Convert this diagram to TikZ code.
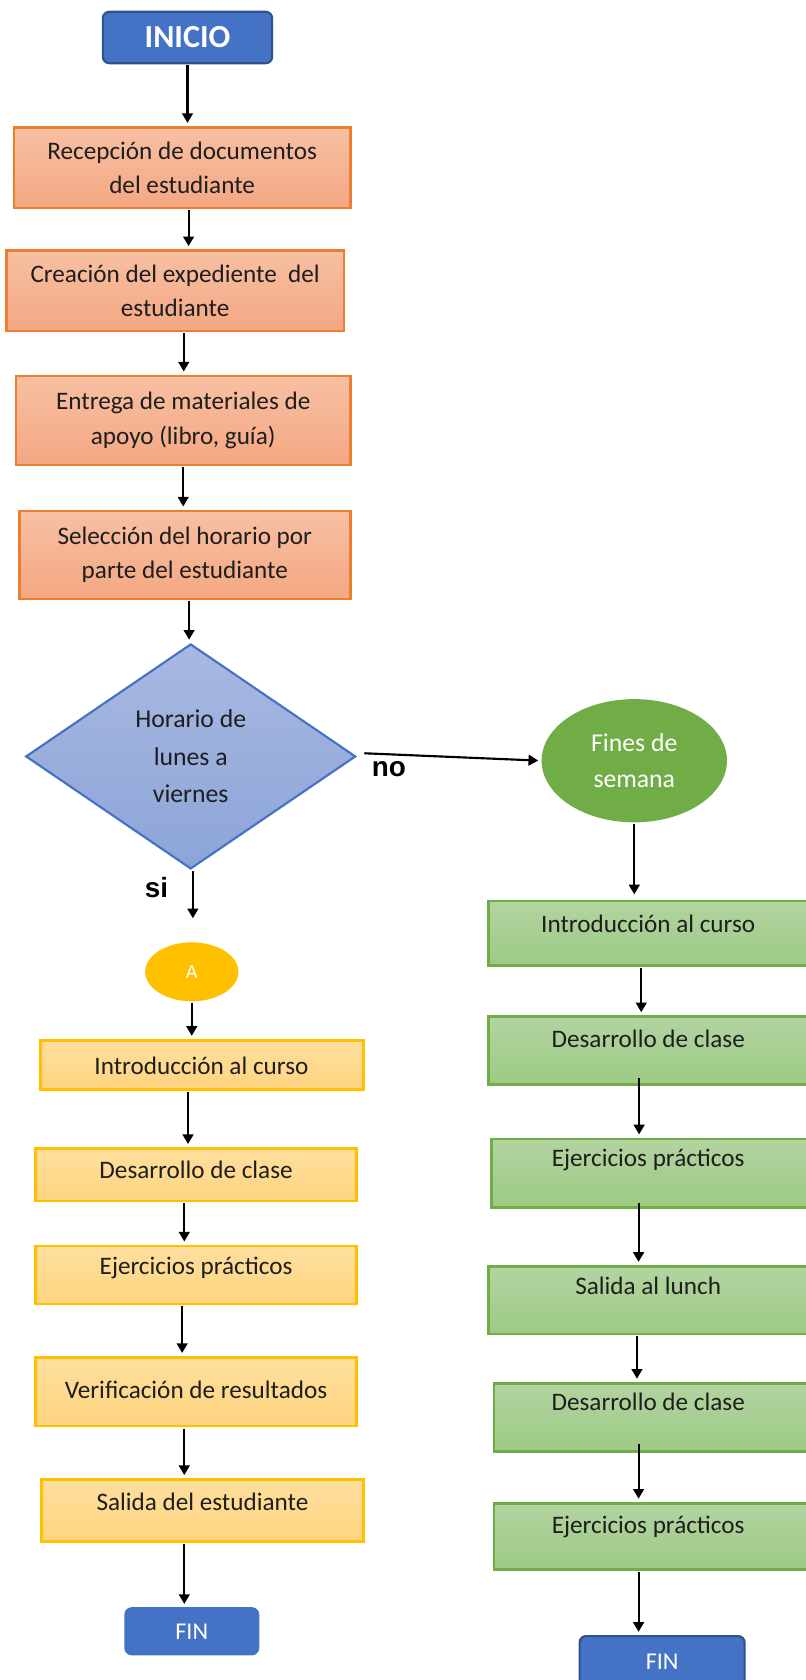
\documentclass[tikz,border=0pt]{standalone}
\usepackage{fontspec}
\setmainfont{Carlito}
\newfontfamily\arialf{Liberation Sans}
\usetikzlibrary{arrows.meta,shapes.geometric,calc}
\definecolor{blueF}{HTML}{4472C4}
\definecolor{blueD}{HTML}{2F528F}
\definecolor{orB}{HTML}{ED7D31}
\definecolor{orT}{HTML}{F7C0A2}
\definecolor{orBo}{HTML}{F4A783}
\definecolor{yeB}{HTML}{FFC000}
\definecolor{yeT}{HTML}{FFDF9E}
\definecolor{yeBo}{HTML}{FFD47F}
\definecolor{grB}{HTML}{70AD47}
\definecolor{grT}{HTML}{B3D4A1}
\definecolor{grBo}{HTML}{9DCA84}
\definecolor{diT}{HTML}{A9B8E1}
\definecolor{diBo}{HTML}{8CA5D8}
\definecolor{txt}{HTML}{1E1E1E}
\begin{document}
\begin{tikzpicture}[x=1pt,y=-1pt,
  termbox/.style={draw=blueD,line width=2pt,fill=blueF,rounded corners=6pt,text=white,inner sep=0pt},
  obox/.style={draw=orB,line width=2.5pt,top color=orT,bottom color=orBo,inner sep=0pt},
  ybox/.style={draw=yeB,line width=2.5pt,top color=yeT,bottom color=yeBo,inner sep=0pt},
  gbox/.style={draw=grB,line width=2.5pt,top color=grT,bottom color=grBo,inner sep=0pt},
  txtnode/.style={align=center,text=txt,font=\fontsize{23.5}{32}\selectfont,inner sep=0pt},
  arr/.style={-{Triangle[width=10pt,length=9pt]},line width=2pt,black,shorten >=3pt,shorten <=1pt},
  lbl/.style={font=\arialf\fontsize{26}{30}\selectfont\bfseries,text=black,inner sep=0pt}
]
\useasboundingbox (0,0) rectangle (752,1568);

% left column
\node[termbox,minimum width=158,minimum height=48,font=\fontsize{30}{34}\selectfont\bfseries] (inicio) at (175,35) {INICIO};
\node[obox,minimum width=314,minimum height=75] (o1) at (170,156.5) {};
\node[txtnode] (o1t) at (o1.center) {Recepción de documentos\\del estudiante};
\node[obox,minimum width=315,minimum height=75] (o2) at (163.5,271.5) {};
\node[txtnode] (o2t) at (o2.center) {Creación del expediente~ del\\estudiante};
\node[obox,minimum width=312,minimum height=83] (o3) at (171,392.5) {};
\node[txtnode] (o3t) at (o3.center) {Entrega de materiales de\\apoyo (libro, guía)};
\node[obox,minimum width=309,minimum height=82] (o4) at (172.5,518) {};
\node[txtnode] (o4t) at (o4.center) {Selección del horario por\\parte del estudiante};

\node[diamond,draw=blueF,line width=2pt,top color=diT,bottom color=diBo,minimum width=308,minimum height=210,inner sep=0pt] (dia) at (178,706) {};
\node[txtnode,font=\fontsize{24}{35}\selectfont] (diat) at (dia.center) {Horario de\\lunes a\\viernes};

\node[ellipse,fill=grB,minimum width=173,minimum height=115,inner sep=0pt] (fines) at (592,710) {};
\node[txtnode,text=white,font=\fontsize{24}{33}\selectfont] (finest) at (fines.center) {Fines de\\semana};

\node[ellipse,fill=yeB,minimum width=87,minimum height=55,inner sep=0pt,text=white,font=\fontsize{19}{20}\selectfont] (A) at (179,907) {A};

\node[ybox,minimum width=301,minimum height=46] (l1) at (188.5,994) {};
\node[txtnode] (l1t) at (188,995) {Introducción al curso};
\node[ybox,minimum width=300,minimum height=49] (l2) at (183,1096.5) {};
\node[txtnode] (l2t) at (183,1092) {Desarrollo de clase};
\node[ybox,minimum width=300,minimum height=54] (l3) at (183,1190) {};
\node[txtnode] (l3t) at (183,1183) {Ejercicios prácticos};
\node[ybox,minimum width=300,minimum height=64] (l4) at (183,1299) {};
\node[txtnode] (l4t) at (183,1297) {Verificación de resultados};
\node[ybox,minimum width=300,minimum height=58] (l5) at (189,1410) {};
\node[txtnode] (l5t) at (189,1402) {Salida del estudiante};
\node[termbox,draw=blueF,minimum width=124,minimum height=43,font=\fontsize{22.5}{24}\selectfont] (fin1) at (179,1522.5) {FIN};

% right column
\node[gbox,minimum width=303,minimum height=60] (r1) at (607.5,871) {};
\node[txtnode] (r1t) at (605,862) {Introducción al curso};
\node[gbox,minimum width=303,minimum height=63] (r2) at (607.5,980.5) {};
\node[txtnode] (r2t) at (605,970) {Desarrollo de clase};
\node[gbox,minimum width=300,minimum height=64] (r3) at (609,1095) {};
\node[txtnode] (r3t) at (605,1083) {Ejercicios prácticos};
\node[gbox,minimum width=303,minimum height=63] (r4) at (607.5,1213.5) {};
\node[txtnode] (r4t) at (605,1200) {Salida al lunch};
\node[gbox,minimum width=298,minimum height=64] (r5) at (610,1323) {};
\node[txtnode] (r5t) at (605,1308) {Desarrollo de clase};
\node[gbox,minimum width=298,minimum height=62] (r6) at (610,1434) {};
\node[txtnode] (r6t) at (605,1425) {Ejercicios prácticos};
\node[termbox,minimum width=154,minimum height=48,font=\fontsize{22.5}{24}\selectfont] (fin2) at (618,1551) {FIN};

% labels
\node[lbl] (no) at (363,718) {no};
\node[lbl] (si) at (146,828) {si};

% connectors
\draw[arr] (inicio.south) -- (inicio.south |- o1.north);
\draw[arr] ([xshift=6pt]o1.south) -- ([xshift=6pt]o1.south |- o2.north);
\draw[arr] ([xshift=8pt]o2.south) -- ([xshift=8pt]o2.south |- o3.north);
\draw[arr] (o3.south) -- (o3.south |- o4.north);
\draw[arr] ([xshift=4pt]o4.south) -- ([xshift=4pt]o4.south |- dia.north);
\draw[arr] ([xshift=6pt,yshift=3pt]dia.east) -- (fines.west);
\draw[arr] ([xshift=2pt]dia.south) -- ([xshift=2pt,yshift=-48pt]dia.south);
\draw[arr] (A.south) -- (A.south |- l1.north);
\draw[arr] ([xshift=-13pt]l1.south) -- ([xshift=-13pt]l1.south |- l2.north);
\draw[arr] ([xshift=-11pt]l2.south) -- ([xshift=-11pt]l2.south |- l3.north);
\draw[arr] ([xshift=-13pt]l3.south) -- ([xshift=-13pt]l3.south |- l4.north);
\draw[arr] ([xshift=-11pt]l4.south) -- ([xshift=-11pt]l4.south |- l5.north);
\draw[arr] ([xshift=-17pt]l5.south) -- ([xshift=-17pt]l5.south |- fin1.north);
\draw[arr] (fines.south) -- ([yshift=-70pt]fines.south);
\draw[arr] ([xshift=-9pt]r1.south) -- ([xshift=-9pt]r1.south |- r2.north);
\draw[arr] ([xshift=-11pt,yshift=8pt]r2.south) -- ([xshift=-11pt]r2.south |- r3.north);
\draw[arr] ([xshift=-13pt,yshift=6pt]r3.south) -- ([xshift=-13pt]r3.south |- r4.north);
\draw[arr] ([xshift=-13pt]r4.south) -- ([xshift=-13pt]r4.south |- r5.north);
\draw[arr] ([xshift=-14pt,yshift=10pt]r5.south) -- ([xshift=-14pt]r5.south |- r6.north);
\draw[arr] ([xshift=-14pt]r6.south) -- ([xshift=-14pt]r6.south |- fin2.north);
\end{tikzpicture}
\end{document}
